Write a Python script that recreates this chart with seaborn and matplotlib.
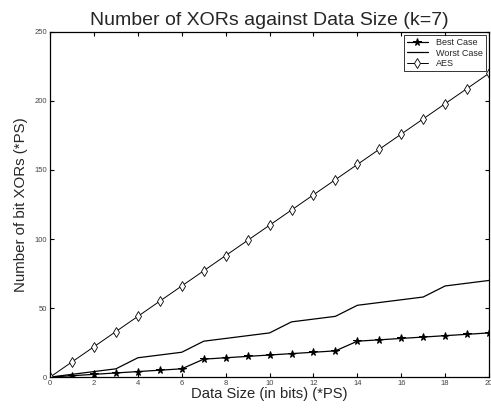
import numpy as np
import pandas as pd
import matplotlib
matplotlib.use("Agg")
import matplotlib.pyplot as plt
import seaborn as sns

data_size = list(range(0, 21))
best_case = [0, 1, 2, 3, 4, 5, 6, 13, 14, 15, 16, 17, 18, 19, 26, 27, 28, 29, 30, 31, 32]
worst_case = [0, 2, 4, 6, 14, 16, 18, 26, 28, 30, 32, 40, 42, 44, 52, 54, 56, 58, 66, 68, 70]
aes = [0, 11, 22, 33, 44, 55, 66, 77, 88, 99, 110, 121, 132, 143, 154, 165, 176, 187, 198, 209, 220]
x_ticks = list(range(0, 21, 2))
y_ticks = list(range(0, 251, 50))

sns.set_style("white")
plt.rcParams['font.family'] = ['Liberation Sans', 'DejaVu Sans']

fig = plt.figure(figsize=(4.91, 4.09), dpi=100)
ax = fig.add_axes([0.102, 0.078, 0.894, 0.844])

df_b = pd.DataFrame({"x": data_size, "y": best_case})
df_w = pd.DataFrame({"x": data_size, "y": worst_case})
df_a = pd.DataFrame({"x": data_size, "y": aes})

sns.lineplot(data=df_b, x="x", y="y", ax=ax, color="black", lw=0.9, marker="*",
             markersize=5.5, markerfacecolor="black", markeredgecolor="black", label="Best Case")
sns.lineplot(data=df_w, x="x", y="y", ax=ax, color="black", lw=0.9, label="Worst Case")
sns.lineplot(data=df_a, x="x", y="y", ax=ax, color="black", lw=0.7, marker="d",
             markersize=5, markerfacecolor="white", markeredgecolor="black",
             markeredgewidth=0.6, label="AES")

ax.set_xlim(0, 20)
ax.set_ylim(0, 250)
ax.set_xticks(x_ticks)
ax.set_yticks(y_ticks)
ax.tick_params(direction="in", length=3, width=0.8, labelsize=5.5, top=True, right=True,
               bottom=True, left=True, colors="black", labelcolor="#444444", pad=2)
for s in ax.spines.values():
    s.set_visible(True)
    s.set_color("black")
    s.set_linewidth(0.9)

ax.set_xlabel("Data Size (in bits) (*PS)", fontsize=10.6, labelpad=0)
ax.set_ylabel("Number of bit XORs (*PS)", fontsize=10.8, labelpad=5)
ax.set_title("Number of XORs against Data Size (k=7)", fontsize=14, pad=5)

leg = ax.legend(loc="upper right", fontsize=6.5, frameon=True, fancybox=False,
                edgecolor="black", borderpad=0.3, labelspacing=0.2, handlelength=2.4,
                handletextpad=0.9, borderaxespad=0.35)
leg.get_frame().set_linewidth(0.7)

fig.savefig("out.png", dpi=100)
